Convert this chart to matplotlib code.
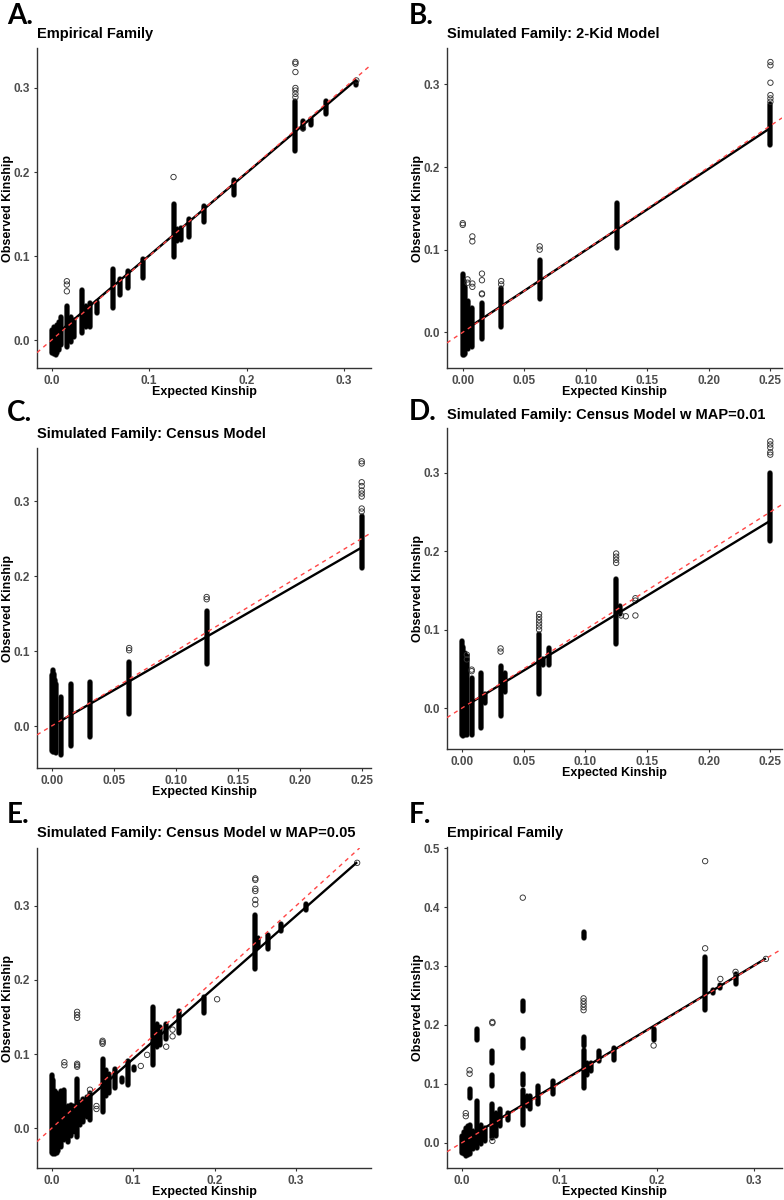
import matplotlib
matplotlib.use('Agg')
import matplotlib.pyplot as plt
import numpy as np

# ---------------- DATA ----------------
# Panel A: Empirical Family
A_col_x  = [0.000, 0.002, 0.004, 0.006, 0.008, 0.010, 0.0156, 0.0195, 0.0234, 0.03125, 0.0352, 0.039, 0.047,
            0.0625, 0.0703, 0.078, 0.09375, 0.125, 0.129, 0.1328, 0.1406, 0.15625, 0.1875, 0.25, 0.2578,
            0.2656, 0.28125, 0.3125]
A_col_lo = [-0.015, -0.017, -0.018, -0.016, -0.012, -0.006, -0.008, -0.002, 0.004, 0.008, 0.015, 0.016, 0.032,
            0.038, 0.054, 0.062, 0.074, 0.099, 0.118, 0.119, 0.123, 0.141, 0.173, 0.225, 0.251,
            0.256, 0.269, 0.303]
A_col_hi = [0.012, 0.015, 0.016, 0.018, 0.022, 0.027, 0.040, 0.028, 0.024, 0.060, 0.040, 0.044, 0.045,
            0.085, 0.073, 0.082, 0.096, 0.162, 0.132, 0.133, 0.144, 0.159, 0.190, 0.285, 0.261,
            0.263, 0.285, 0.307]
A_out_x = [0.0156, 0.0156, 0.0156, 0.125, 0.25, 0.25, 0.25, 0.25, 0.25, 0.25, 0.25, 0.2578, 0.3125]
A_out_y = [0.070, 0.066, 0.058, 0.194, 0.331, 0.329, 0.319, 0.300, 0.297, 0.293, 0.289, 0.252, 0.309]
A_fit = (0.002, 0.985)

# Panel B: Simulated Family: 2-Kid Model
B_col_x  = [0.000, 0.001, 0.002, 0.0039, 0.0078, 0.0156, 0.03125, 0.0625, 0.125, 0.25]
B_col_lo = [-0.028, -0.027, -0.026, -0.020, -0.018, -0.008, 0.006, 0.040, 0.102, 0.227]
B_col_hi = [0.070, 0.062, 0.055, 0.038, 0.030, 0.036, 0.053, 0.088, 0.156, 0.276]
B_out_x = [0.0, 0.0, 0.0039, 0.0039, 0.0078, 0.0078, 0.0078, 0.0078, 0.0156, 0.0156, 0.0156, 0.0156,
           0.03125, 0.03125, 0.0625, 0.0625, 0.25, 0.25, 0.25, 0.25, 0.25, 0.25]
B_out_y = [0.132, 0.130, 0.064, 0.060, 0.116, 0.110, 0.059, 0.055, 0.071, 0.063, 0.047, 0.046,
           0.062, 0.058, 0.104, 0.100, 0.327, 0.323, 0.302, 0.287, 0.283, 0.279]
B_fit = (0.001, 0.985)

# Panel C: Simulated Family: Census Model
C_col_x  = [0.000, 0.001, 0.002, 0.003, 0.0039, 0.0078, 0.0156, 0.03125, 0.0625, 0.125, 0.25]
C_col_lo = [-0.033, -0.034, -0.035, -0.035, -0.036, -0.038, -0.027, -0.014, 0.016, 0.083, 0.211]
C_col_hi = [0.068, 0.075, 0.070, 0.062, 0.056, 0.039, 0.056, 0.059, 0.086, 0.154, 0.280]
C_out_x = [0.0625, 0.0625, 0.125, 0.125, 0.25, 0.25, 0.25, 0.25, 0.25, 0.25, 0.25, 0.25, 0.25]
C_out_y = [0.104, 0.101, 0.172, 0.169, 0.353, 0.350, 0.325, 0.320, 0.314, 0.310, 0.306, 0.290, 0.286]
C_fit = (0.000, 0.952)

# Panel D: Simulated Family: Census Model w MAP=0.01
D_col_x  = [0.000, 0.001, 0.002, 0.0039, 0.0078, 0.0156, 0.0186, 0.03125, 0.0352, 0.0625, 0.066, 0.0703,
            0.125, 0.128, 0.25]
D_col_lo = [-0.034, -0.035, -0.034, -0.034, -0.034, -0.025, 0.007, -0.010, 0.020, 0.018, 0.055, 0.055,
            0.082, 0.120, 0.213]
D_col_hi = [0.085, 0.078, 0.070, 0.066, 0.038, 0.045, 0.018, 0.054, 0.045, 0.095, 0.062, 0.076,
            0.165, 0.130, 0.300]
D_out_x = [0.0039, 0.0039, 0.0078, 0.0078, 0.03125, 0.03125, 0.0625, 0.0625, 0.0625, 0.0625, 0.0625, 0.0625,
           0.125, 0.125, 0.125, 0.125, 0.1328, 0.129, 0.1406, 0.1406, 0.1406, 0.25, 0.25, 0.25, 0.25, 0.25]
D_out_y = [0.068, 0.062, 0.049, 0.047, 0.076, 0.072, 0.120, 0.116, 0.112, 0.108, 0.104, 0.100,
           0.197, 0.193, 0.189, 0.185, 0.117, 0.118, 0.140, 0.137, 0.118, 0.340, 0.336, 0.332, 0.326, 0.323]
D_fit = (0.000, 0.955)

# Panel E: Simulated Family: Census Model w MAP=0.05
E_col_x  = [0.000, 0.002, 0.004, 0.006, 0.008, 0.0117, 0.0156, 0.0195, 0.0234, 0.0273, 0.03125, 0.0352,
            0.039, 0.043, 0.047, 0.0625, 0.0664, 0.0703, 0.078, 0.0859, 0.09375, 0.1016, 0.125, 0.129,
            0.1328, 0.1406, 0.15625, 0.1875, 0.25, 0.2539, 0.2656, 0.28125, 0.3125]
E_col_lo = [-0.034, -0.035, -0.035, -0.033, -0.030, -0.025, -0.016, -0.018, -0.010, -0.005, -0.012, 0.005,
            0.008, 0.015, 0.011, 0.022, 0.043, 0.048, 0.054, 0.063, 0.058, 0.079, 0.085, 0.110,
            0.112, 0.120, 0.128, 0.155, 0.215, 0.244, 0.242, 0.266, 0.295]
E_col_hi = [0.072, 0.065, 0.050, 0.048, 0.045, 0.050, 0.052, 0.030, 0.032, 0.030, 0.066, 0.035,
            0.040, 0.042, 0.048, 0.094, 0.078, 0.073, 0.080, 0.068, 0.091, 0.083, 0.164, 0.140,
            0.136, 0.140, 0.158, 0.177, 0.288, 0.256, 0.260, 0.276, 0.302]
E_out_x = [0.0156, 0.0156, 0.03125, 0.03125, 0.03125, 0.03125, 0.03125, 0.03125, 0.047, 0.055, 0.055,
           0.0625, 0.0625, 0.0625, 0.1094, 0.1172, 0.1406, 0.1484, 0.1484, 0.2031,
           0.25, 0.25, 0.25, 0.25, 0.25, 0.25, 0.375]
E_out_y = [0.089, 0.085, 0.157, 0.153, 0.149, 0.087, 0.085, 0.083, 0.052, 0.030, 0.026,
           0.118, 0.116, 0.114, 0.084, 0.099, 0.110, 0.133, 0.124, 0.174,
           0.337, 0.335, 0.323, 0.320, 0.308, 0.302, 0.358]
E_fit = (-0.003, 0.965)

# Panel F: Empirical Family
F_col_x  = [0.000, 0.002, 0.004, 0.006, 0.0078, 0.0078, 0.0117, 0.0156, 0.0156, 0.0195, 0.0234, 0.03125,
            0.03125, 0.03125, 0.0352, 0.039, 0.047, 0.0625, 0.0625, 0.0625, 0.0625, 0.0664, 0.0703, 0.078,
            0.09375, 0.125, 0.125, 0.125, 0.129, 0.1328, 0.1406, 0.15625, 0.197, 0.25, 0.2578,
            0.2656, 0.28125]
F_col_lo = [-0.018, -0.020, -0.022, -0.021, -0.020, 0.076, -0.010, -0.009, 0.175, -0.002, 0.003, 0.008,
            0.097, 0.136, 0.012, 0.028, 0.038, 0.030, 0.098, 0.160, 0.224, 0.062, 0.057, 0.065,
            0.082, 0.093, 0.164, 0.347, 0.115, 0.121, 0.138, 0.141, 0.175, 0.225, 0.254,
            0.263, 0.269]
F_col_hi = [0.012, 0.018, 0.025, 0.028, 0.030, 0.091, 0.020, 0.070, 0.193, 0.030, 0.025, 0.065,
            0.115, 0.155, 0.050, 0.057, 0.050, 0.090, 0.116, 0.176, 0.240, 0.079, 0.079, 0.096,
            0.104, 0.157, 0.180, 0.357, 0.135, 0.136, 0.155, 0.161, 0.193, 0.315, 0.260,
            0.268, 0.287]
F_out_x = [0.0039, 0.0039, 0.0078, 0.0078, 0.03125, 0.03125, 0.03125, 0.0625, 0.125, 0.125, 0.125, 0.125,
           0.125, 0.197, 0.25, 0.25, 0.2656, 0.28125, 0.3125]
F_out_y = [0.050, 0.045, 0.123, 0.117, 0.205, 0.203, 0.003, 0.416, 0.245, 0.240, 0.235, 0.230,
           0.225, 0.165, 0.330, 0.478, 0.278, 0.290, 0.312]
F_fit = (0.002, 0.995)

TITLES = ["Empirical Family", "Simulated Family: 2-Kid Model", "Simulated Family: Census Model",
          "Simulated Family: Census Model w MAP=0.01", "Simulated Family: Census Model w MAP=0.05",
          "Empirical Family"]
LETTERS = ["A.", "B.", "C.", "D.", "E.", "F."]
X_TICKS_1 = [0.0, 0.1, 0.2, 0.3]
X_TICKS_2 = [0.00, 0.05, 0.10, 0.15, 0.20, 0.25]
Y_TICKS_1 = [0.0, 0.1, 0.2, 0.3]
Y_TICKS_2 = [0.0, 0.1, 0.2, 0.3, 0.4, 0.5]

# ---------------- LAYOUT ----------------
W, H = 784, 1200
fig = plt.figure(figsize=(W / 100, H / 100), dpi=100)
TXT = ['Liberation Sans', 'DejaVu Sans']

panels = [
    dict(col=(A_col_x, A_col_lo, A_col_hi), out=(A_out_x, A_out_y), fit=A_fit,
         box=(37, 48, 371, 368), xlim=(-0.015, 0.3275), ylim=(-0.0333, 0.3476),
         xt=X_TICKS_1, xf="{:.1f}", yt=Y_TICKS_1, title_y=34, letter_y=24, lab_y=392),
    dict(col=(B_col_x, B_col_lo, B_col_hi), out=(B_out_x, B_out_y), fit=B_fit,
         box=(447, 48, 782, 368), xlim=(-0.0128, 0.2594), ylim=(-0.0432, 0.344),
         xt=X_TICKS_2, xf="{:.2f}", yt=Y_TICKS_1, title_y=34, letter_y=24, lab_y=392),
    dict(col=(C_col_x, C_col_lo, C_col_hi), out=(C_out_x, C_out_y), fit=C_fit,
         box=(37, 448, 371, 768), xlim=(-0.0118, 0.2575), ylim=(-0.056, 0.3707),
         xt=X_TICKS_2, xf="{:.2f}", yt=Y_TICKS_1, title_y=434, letter_y=421, lab_y=792),
    dict(col=(D_col_x, D_col_lo, D_col_hi), out=(D_out_x, D_out_y), fit=D_fit,
         box=(447, 428, 782, 749), xlim=(-0.0122, 0.2595), ylim=(-0.0522, 0.357),
         xt=X_TICKS_2, xf="{:.2f}", yt=Y_TICKS_1, title_y=415, letter_y=420, lab_y=773),
    dict(col=(E_col_x, E_col_lo, E_col_hi), out=(E_out_x, E_out_y), fit=E_fit,
         box=(37, 848, 371, 1168), xlim=(-0.018, 0.392), ylim=(-0.0536, 0.378),
         xt=X_TICKS_1, xf="{:.1f}", yt=Y_TICKS_1, title_y=833, letter_y=823, lab_y=1192),
    dict(col=(F_col_x, F_col_lo, F_col_hi), out=(F_out_x, F_out_y), fit=F_fit,
         box=(447, 847, 782, 1168), xlim=(-0.0154, 0.329), ylim=(-0.043, 0.502),
         xt=X_TICKS_1, xf="{:.1f}", yt=Y_TICKS_2, title_y=833, letter_y=823, lab_y=1192),
]

AXC = '#333333'
TICKC = '#4d4d4d'

for i, p in enumerate(panels):
    l, t, r, b = p['box']
    ax = fig.add_axes([l / W, 1 - b / H, (r - l) / W, (b - t) / H])
    cx, clo, chi = p['col']
    ox, oy = p['out']
    # dense columns of overlapping points
    ax.vlines(cx, clo, chi, colors='#555555', linewidth=4.0, capstyle='round', zorder=2)
    ax.vlines(cx, clo, chi, colors='black', linewidth=3.2, capstyle='round', zorder=2.5)
    # individual points
    ax.scatter(ox, oy, s=15, facecolors='none', edgecolors='#333333', linewidths=0.65, zorder=3)
    # regression line over data range
    allx = list(cx) + list(ox)
    xs = np.array([min(allx), max(allx)])
    b0, b1 = p['fit']
    ax.plot(xs, b0 + b1 * xs, color='black', lw=1.7, zorder=4, solid_capstyle='butt')
    # identity line
    ax.axline((0, 0), slope=1, color='#ff4545', lw=1.0, ls=(0, (3, 3)), zorder=5)

    ax.set_xlim(*p['xlim'])
    ax.set_ylim(*p['ylim'])
    ax.set_xticks(p['xt'])
    ax.set_xticklabels([p['xf'].format(v) for v in p['xt']])
    ax.set_yticks(p['yt'])
    ax.set_yticklabels(["{:.1f}".format(v) for v in p['yt']])
    for s in ['top', 'right']:
        ax.spines[s].set_visible(False)
    for s in ['left', 'bottom']:
        ax.spines[s].set_color(AXC)
        ax.spines[s].set_linewidth(1.0)
    ax.tick_params(direction='out', length=2.5, width=0.8, color=AXC, labelcolor=TICKC,
                   labelsize=8.5, pad=2.5)
    for lab in ax.get_xticklabels() + ax.get_yticklabels():
        lab.set_fontweight('bold')
        lab.set_family(TXT)

    # texts
    fig.text(l / W, 1 - p['title_y'] / H, TITLES[i], ha='left', va='center',
             fontsize=10.5, fontweight='bold', family=TXT, color='black')
    fig.text((l + r) / 2 / W, 1 - p['lab_y'] / H, "Expected Kinship", ha='center', va='center',
             fontsize=9, fontweight='bold', family=TXT)
    fig.text((l - 29) / W, 1 - (t + b) / 2 / H, "Observed Kinship", ha='center', va='center',
             rotation=90, fontsize=9, fontweight='bold', family=TXT)
    lx = 7 if l < 100 else 409
    fig.text(lx / W, 1 - p['letter_y'] / H, LETTERS[i], ha='left', va='baseline',
             fontsize=20, fontweight='bold', family=['Lato', 'DejaVu Sans'])

fig.savefig('out.png', dpi=100)
